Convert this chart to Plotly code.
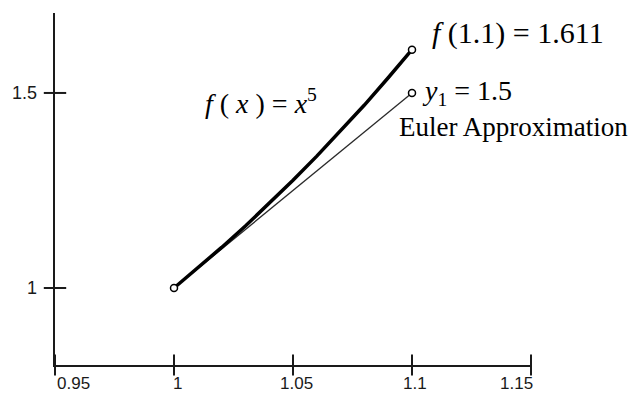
import plotly.graph_objects as go

# f(x) = x^5 on [1, 1.1]
curve_x = [1.0, 1.01, 1.02, 1.03, 1.04, 1.05, 1.06, 1.07, 1.08, 1.09, 1.1]
curve_y = [1.0, 1.051, 1.104, 1.159, 1.217, 1.276, 1.338, 1.403, 1.469, 1.539, 1.611]

# One Euler step from (1, 1)
euler_x = [1.0, 1.1]
euler_y = [1.0, 1.5]

# Highlighted points
point_x = [1.0, 1.1, 1.1]
point_y = [1.0, 1.611, 1.5]

x_ticks = [0.95, 1.0, 1.05, 1.1, 1.15]
x_tick_text = ["0.95", "1", "1.05", "1.1", "1.15"]
y_ticks = [1.0, 1.5]
y_tick_text = ["1", "1.5"]

x_range = [0.95, 1.15]
y_range = [0.8026, 1.705]

serif = "Liberation Serif, Times New Roman, serif"
sans = "Liberation Sans, Arial, sans-serif"
ink = "#1a1a1a"

fig = go.Figure()

fig.add_trace(go.Scatter(
    x=euler_x, y=euler_y, mode="lines",
    line=dict(color="#2a2a2a", width=1.3), hoverinfo="skip",
))
fig.add_trace(go.Scatter(
    x=curve_x, y=curve_y, mode="lines",
    line=dict(color="#000000", width=3.5), hoverinfo="skip",
))
fig.add_trace(go.Scatter(
    x=point_x, y=point_y, mode="markers",
    marker=dict(symbol="circle", size=7, color="white",
                line=dict(color="black", width=1.5)),
    hoverinfo="skip",
))

# crossing tick marks drawn as short bars centred on each axis line
fig.add_trace(go.Scatter(
    x=x_ticks, y=[y_range[0]] * len(x_ticks), mode="markers",
    marker=dict(symbol="line-ns", size=15, line=dict(color=ink, width=2)),
    cliponaxis=False, hoverinfo="skip",
))
fig.add_trace(go.Scatter(
    x=[x_range[0]] * len(y_ticks), y=y_ticks, mode="markers",
    marker=dict(symbol="line-ew", size=16, line=dict(color=ink, width=2)),
    cliponaxis=False, hoverinfo="skip",
))

axis_style = dict(
    showline=True, linewidth=2, linecolor=ink,
    showgrid=False, zeroline=False, ticks="",
    showticklabels=False, automargin=False, fixedrange=True,
)
fig.update_layout(
    width=634, height=395,
    margin=dict(l=55, r=103, t=13, b=30),
    paper_bgcolor="white", plot_bgcolor="white",
    showlegend=False,
    xaxis=dict(range=x_range, **axis_style),
    yaxis=dict(range=y_range, **axis_style),
)

# tick labels: end labels are tucked inside the axis span
tick_font = dict(family=sans, size=17, color=ink)
for i, (v, t) in enumerate(zip(x_ticks, x_tick_text)):
    if i == 0:
        anchor, shift = "left", 2
    elif i == len(x_ticks) - 1:
        anchor, shift = "right", 2
    else:
        anchor, shift = "center", 3
    fig.add_annotation(x=v, y=0, xref="x", yref="paper", text=t,
                       showarrow=False, xanchor=anchor, yanchor="top",
                       xshift=shift, yshift=-9, borderpad=0, borderwidth=0,
                       font=tick_font)
for v, t in zip(y_ticks, y_tick_text):
    fig.add_annotation(x=0, y=v, xref="paper", yref="y", text=t,
                       showarrow=False, xanchor="right", yanchor="middle",
                       xshift=-18, borderpad=0, borderwidth=0,
                       font=dict(family=sans, size=18, color=ink))

labels = [
    dict(x=1.1084, y=1.654, text="<i>f</i> (1.1) = 1.611", size=30),
    dict(x=1.1042, y=1.50, text="<i>y</i><sub>1</sub> = 1.5", size=28),
    dict(x=1.0945, y=1.4115, text="Euler Approximation", size=27),
    dict(x=1.013, y=1.479, text="<i>f</i> ( <i>x</i> ) = <i>x</i><sup>5</sup>", size=28),
]
for a in labels:
    fig.add_annotation(
        x=a["x"], y=a["y"], xref="x", yref="y", text=a["text"],
        showarrow=False, xanchor="left", yanchor="middle",
        borderpad=0, borderwidth=0,
        font=dict(family=serif, size=a["size"], color="black"),
    )

fig.write_html("out.html")
